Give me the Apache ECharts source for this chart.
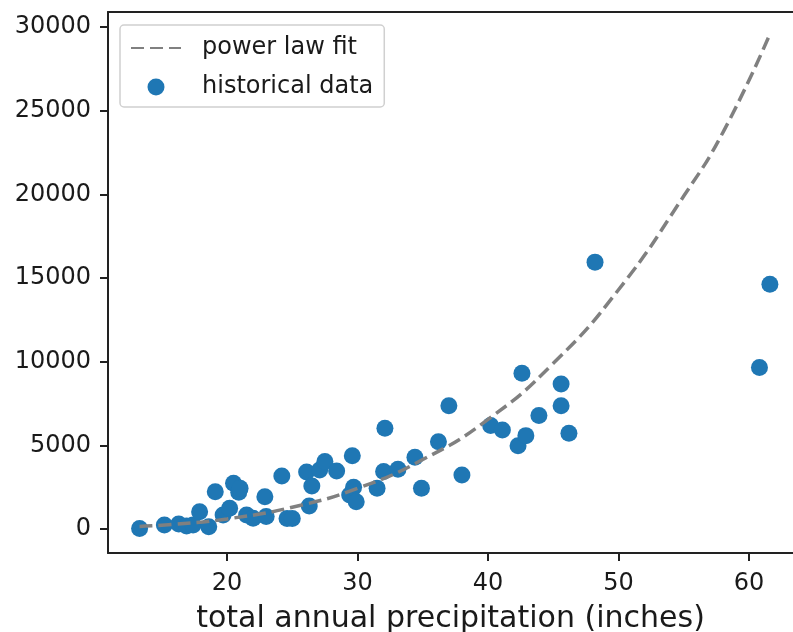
<!DOCTYPE html>
<html>
<head>
<meta charset="utf-8">
<script src="https://cdn.jsdelivr.net/npm/echarts@6/dist/echarts.min.js"></script>
<style>
  html, body { margin: 0; padding: 0; background: #fff; }
  #chart { width: 793px; height: 632px; }
</style>
</head>
<body>
<div id="chart"></div>
<script>
  // historical data
  const precip = [13.3, 15.2, 16.3, 16.9, 17.4, 17.9, 18.6, 19.1, 19.7, 20.2, 20.5, 20.9, 21.0, 21.5, 22.0,
    22.9, 23.0, 24.2, 24.6, 25.0, 26.1, 26.3, 26.5, 27.1, 27.5, 28.4, 29.4, 29.6, 29.7, 29.9, 31.5,
    32.0, 32.1, 33.1, 34.4, 34.9, 36.2, 37.0, 38.0, 40.2, 41.1, 42.3, 42.6, 42.9, 43.9, 45.6, 45.6,
    46.2, 48.2, 60.8, 61.6]
  const amount = [30, 240, 300, 180, 240, 1030, 140, 2230, 840, 1240, 2730, 2200, 2430, 840, 640,
    1930, 740, 3170, 630, 630, 3410, 1375, 2570, 3530, 4030, 3470, 2030, 4380, 2490, 1630, 2430,
    3430, 6020, 3570, 4290, 2430, 5220, 7370, 3230, 6180, 5920, 4980, 9310, 5580, 6780, 8670, 7370,
    5720, 15950, 9650, 14630]

  // power law fit curve
  const fitX = [13.3, 16, 20, 25, 30, 35, 40, 45, 50, 55, 58, 61.5]
  const fitY = [150, 280, 600, 1300, 2430, 4150, 6550, 9900, 14300, 19900, 23700, 29400]

  const xTicks = [20, 30, 40, 50, 60]
  const yTicks = [0, 5000, 10000, 15000, 20000, 25000, 30000]

  const font = 'DejaVu Sans'
  const ink = '#1a1a1a'
  const spine = { show: true, onZero: false, lineStyle: { color: '#222', width: 2 } }

  const chart = echarts.init(document.getElementById('chart'), null, { renderer: 'canvas' })

  chart.setOption({
    animation: false,
    textStyle: { fontFamily: font },
    // the right spine sits just past the edge of the picture, so the plot runs to the edge
    grid: { left: 108, top: 12, right: 0, bottom: 79, outerBoundsMode: 'none' },
    legend: {
      data: [
        { name: 'power law fit', itemStyle: { opacity: 0 } },
        { name: 'historical data' }
      ],
      orient: 'vertical',
      left: 120,
      top: 25,
      padding: [11, 11, 8, 10],
      itemWidth: 50,
      itemHeight: 17,
      itemGap: 15,
      borderColor: '#d0d0d0',
      borderWidth: 1.5,
      borderRadius: 4,
      backgroundColor: 'rgba(255,255,255,0.8)',
      textStyle: {
        fontFamily: font,
        fontSize: 24,
        color: ink,
        padding: [0, 0, 0, 16]
      }
    },
    xAxis: [
      {
        type: 'value',
        min: 10.88,
        max: 63.37,
        splitLine: { show: false },
        axisLine: spine,
        axisTick: {
          show: true,
          inside: false,
          length: 8,
          lineStyle: { color: '#222', width: 2 },
          customValues: xTicks
        },
        axisLabel: {
          customValues: xTicks,
          formatter: v => String(v),
          fontFamily: font,
          fontSize: 24,
          color: ink,
          margin: 19
        },
        name: 'total annual precipitation (inches)',
        nameLocation: 'middle',
        nameGap: 51,
        nameTextStyle: { fontFamily: font, fontSize: 30, color: ink }
      },
      {
        // top spine only
        type: 'value',
        position: 'top',
        min: 10.88,
        max: 63.37,
        splitLine: { show: false },
        axisLine: spine,
        axisTick: { show: false },
        axisLabel: { show: false }
      }
    ],
    yAxis: {
      type: 'value',
      min: -1435,
      max: 30900,
      splitLine: { show: false },
      axisLine: spine,
      axisTick: {
        show: true,
        inside: false,
        length: 8,
        lineStyle: { color: '#222', width: 2 },
        customValues: yTicks
      },
      axisLabel: {
        customValues: yTicks,
        formatter: v => String(v),
        fontFamily: font,
        fontSize: 24,
        color: ink,
        margin: 17
      }
    },
    series: [
      {
        name: 'power law fit',
        type: 'line',
        data: fitX.map((x, i) => [x, fitY[i]]),
        smooth: true,
        symbol: 'none',
        z: 3,
        itemStyle: { color: '#808080' },
        lineStyle: { color: '#808080', width: 3.5, type: [13, 6] }
      },
      {
        name: 'historical data',
        type: 'scatter',
        data: precip.map((x, i) => [x, amount[i]]),
        symbol: 'circle',
        symbolSize: 17,
        z: 2,
        itemStyle: { color: '#1f77b4', opacity: 1 }
      }
    ]
  })
</script>
</body>
</html>
